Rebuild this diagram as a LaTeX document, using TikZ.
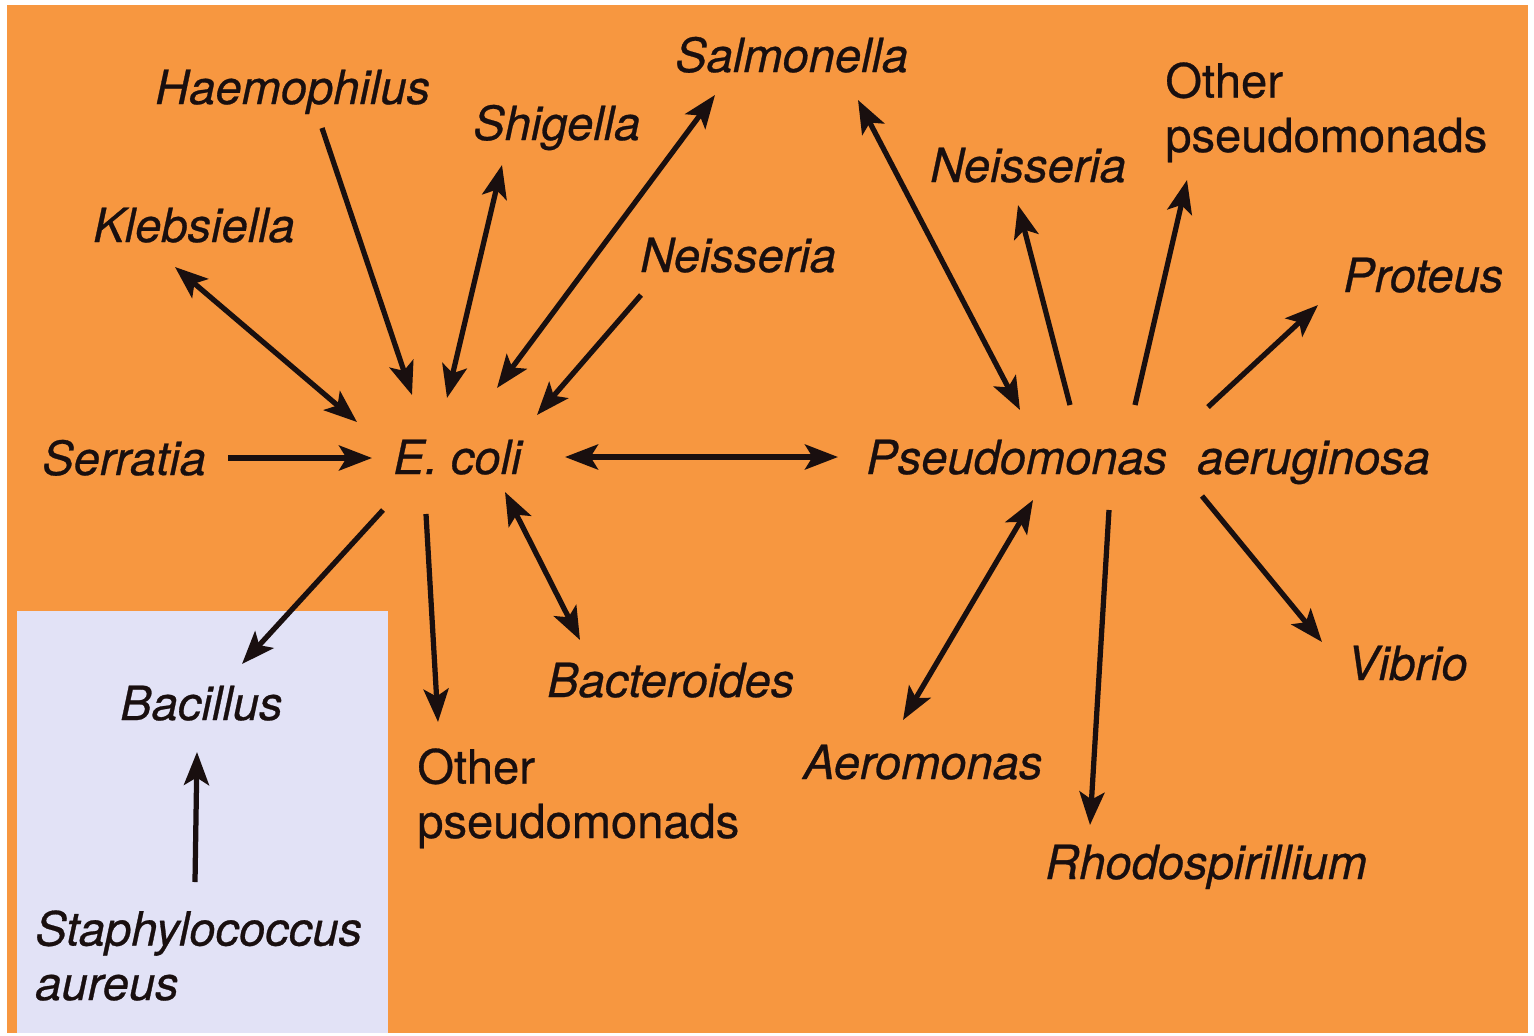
\documentclass[tikz,border=0pt]{standalone}
\usepackage{fontspec}
\setmainfont{TeX Gyre Heros}[FakeBold=0.6]
\usetikzlibrary{arrows.meta}
\definecolor{bgorange}{RGB}{247,151,64}
\definecolor{boxblue}{RGB}{226,226,246}
\definecolor{ink}{RGB}{25,15,15}
\tikzset{
  lbl/.style={font=\fontsize{26.8}{31}\selectfont\itshape, text=ink, inner sep=0pt, anchor=base west, align=left},
  rlbl/.style={font=\fontsize{26.8}{31}\selectfont, text=ink, inner sep=0pt, anchor=base west, align=left},
  tip/.tip={Stealth[length=0.66cm,width=0.5cm,inset=0.15cm]},
  arr/.style={draw=ink, line width=0.105cm, -tip},
  darr/.style={draw=ink, line width=0.105cm, tip-tip},
}
\begin{document}
\begin{tikzpicture}[x=0.02cm,y=-0.02cm]
\useasboundingbox (0,0) rectangle (1534,1035);
\fill[white] (0,0) rectangle (1534,1035);
\fill[bgorange] (7,5) rectangle (1528,1033);
\fill[boxblue] (17,611) rectangle (388,1033);

% labels (multi-line labels are placed by their last baseline)
\node[lbl] (haem) at (155,104) {Haemophilus};
\node[lbl] (shig) at (473,140) {Shigella};
\node[lbl] (salm) at (675,72) {Salmonella};
\node[lbl] (kleb) at (93,242) {Klebsiella};
\node[lbl] (neisL) at (640,272) {Neisseria};
\node[lbl] (serr) at (42,475) {Serratia};
\node[lbl] (ecoli) at (393,474) {E. coli};
\node[lbl] (pseudo) at (866,474) {Pseudomonas\hspace{0.6cm}aeruginosa};
\node[lbl] (neisR) at (930,182) {Neisseria};
\node[rlbl] (otherR) at (1165,152) {Other\\pseudomonads};
\node[lbl] (prot) at (1343,292) {Proteus};
\node[lbl] (vib) at (1347,680) {Vibrio};
\node[lbl] (aero) at (803,779) {Aeromonas};
\node[lbl] (rhodo) at (1045,879) {Rhodospirillium};
\node[lbl] (bact) at (547,697) {Bacteroides};
\node[rlbl] (otherL) at (417,838) {Other\\pseudomonads};
\node[lbl] (bac) at (120,720) {Bacillus};
\node[lbl] (staph) at (35,1000) {Staphylococcus\\aureus};

% connector end points
\coordinate (haem-e) at (322,128);   \coordinate (ec-haem) at (412,395);
\coordinate (ec-shig) at (447,398);  \coordinate (shig-e) at (502,165);
\coordinate (ec-salm) at (497,388);  \coordinate (salm-e) at (715,95);
\coordinate (neisL-e) at (641,295);  \coordinate (ec-neis) at (537,415);
\coordinate (ec-kleb) at (357,422);  \coordinate (kleb-e) at (175,267);
\coordinate (serr-e) at (228,458);   \coordinate (ec-serr) at (372,458);
\coordinate (ec-ps) at (565,457);    \coordinate (ps-ec) at (838,457);
\coordinate (ec-bac) at (383,510);   \coordinate (bac-e) at (242,664);
\coordinate (ec-oth) at (426,514);   \coordinate (othL-e) at (438,722);
\coordinate (ec-bact) at (505,492);  \coordinate (bact-e) at (580,640);
\coordinate (staph-e) at (195,882);  \coordinate (bac-s) at (197,752);
\coordinate (salm-p) at (858,100);   \coordinate (ps-salm) at (1020,410);
\coordinate (ps-neis) at (1070,405); \coordinate (neisR-e) at (1018,205);
\coordinate (ps-oth) at (1135,405);  \coordinate (othR-e) at (1187,180);
\coordinate (ps-prot) at (1208,407); \coordinate (prot-e) at (1318,305);
\coordinate (ps-vib) at (1202,496);  \coordinate (vib-e) at (1322,642);
\coordinate (ps-rho) at (1109,510);  \coordinate (rho-e) at (1090,825);
\coordinate (ps-aero) at (1033,500); \coordinate (aero-e) at (903,720);

% connectors
\draw[arr] (haem-e) -- (ec-haem);
\draw[darr] (ec-shig) -- (shig-e);
\draw[darr] (ec-salm) -- (salm-e);
\draw[arr] (neisL-e) -- (ec-neis);
\draw[darr] (ec-kleb) -- (kleb-e);
\draw[arr] (serr-e) -- (ec-serr);
\draw[darr] (ec-ps) -- (ps-ec);
\draw[arr] (ec-bac) -- (bac-e);
\draw[arr] (ec-oth) -- (othL-e);
\draw[darr] (ec-bact) -- (bact-e);
\draw[arr] (staph-e) -- (bac-s);
\draw[darr] (salm-p) -- (ps-salm);
\draw[arr] (ps-neis) -- (neisR-e);
\draw[arr] (ps-oth) -- (othR-e);
\draw[arr] (ps-prot) -- (prot-e);
\draw[arr] (ps-vib) -- (vib-e);
\draw[arr] (ps-rho) -- (rho-e);
\draw[darr] (ps-aero) -- (aero-e);
\end{tikzpicture}
\end{document}
